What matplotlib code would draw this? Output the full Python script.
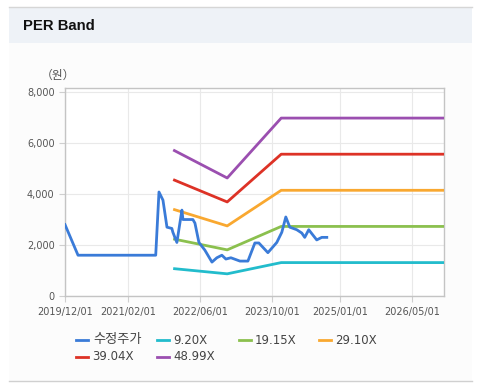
import matplotlib
matplotlib.use("Agg")
import matplotlib.pyplot as plt
from matplotlib.patches import Rectangle
from matplotlib.lines import Line2D
from matplotlib.ticker import FuncFormatter
import numpy as np

plt.rcParams['font.family'] = ['DejaVu Sans', 'Noto Sans CJK KR']

# ---------------- data ----------------
price_dates = ["2019-12-01", "2020-02-27", "2021-08-05", "2021-08-27", "2021-09-23",
               "2021-10-20", "2021-11-22", "2021-11-29", "2021-12-26", "2022-01-29",
               "2022-02-05", "2022-03-04", "2022-04-13", "2022-04-27", "2022-05-24",
               "2022-07-03", "2022-08-20", "2022-09-22", "2022-10-26", "2022-11-22",
               "2022-12-26", "2023-02-25", "2023-04-20", "2023-06-06", "2023-07-03",
               "2023-09-02", "2023-11-01", "2023-12-05", "2024-01-01", "2024-01-28",
               "2024-03-15", "2024-04-18", "2024-05-08", "2024-06-04", "2024-07-28",
               "2024-08-31", "2024-10-04"]
price_values = [2800, 1600, 1600, 4080, 3760,
                2700, 2650, 2500, 2100, 3370,
                3000, 3000, 3000, 2860, 2100,
                1800, 1330, 1500, 1600, 1450,
                1500, 1370, 1370, 2080, 2080,
                1700, 2100, 2500, 3100, 2700,
                2600, 2470, 2300, 2600, 2200,
                2300, 2300]

band_dates = ["2021-12-01", "2022-12-01", "2023-12-01", "2026-12-05"]
band_920 = [1076, 870, 1311, 1311]
band_1915 = [2240, 1810, 2729, 2729]
band_2910 = [3404, 2750, 4147, 4147]
band_3904 = [4567, 3690, 5563, 5563]
band_4899 = [5730, 4630, 6980, 6980]

series_labels = ["수정주가", "9.20X", "19.15X", "29.10X", "39.04X", "48.99X"]
series_colors = ["#3a7bd8", "#22bccc", "#8bc04e", "#f9a830", "#dd3226", "#9b4fb0"]

x_tick_labels = ["2019/12/01", "2021/02/01", "2022/06/01", "2023/10/01", "2025/01/01", "2026/05/01"]
y_ticks = [0, 2000, 4000, 6000, 8000]

# ---------------- figure ----------------
W, H = 479, 389
fig = plt.figure(figsize=(W / 100, H / 100), dpi=100)
fig.patch.set_facecolor("white")

def fx(px):
    return px / W

def fy(py):
    return 1 - py / H

# card background
fig.patches.append(Rectangle((fx(9), fy(381)), fx(472) - fx(9), fy(7) - fy(381),
                             transform=fig.transFigure, facecolor="#fcfcfc", edgecolor="none", zorder=-5))
# header band
fig.patches.append(Rectangle((fx(9), fy(43)), fx(472) - fx(9), fy(7) - fy(43),
                             transform=fig.transFigure, facecolor="#eef2f7", edgecolor="none", zorder=-4))
fig.lines.append(Line2D([fx(9), fx(472)], [fy(7), fy(7)], transform=fig.transFigure,
                        color="#d6d6d6", lw=1.0, zorder=-3))
fig.lines.append(Line2D([fx(9), fx(472)], [fy(381), fy(381)], transform=fig.transFigure,
                        color="#d0d0d0", lw=1.0, zorder=-3))

fig.text(fx(23), fy(26), "PER Band", fontsize=10.7, fontweight="bold",
         family="Liberation Sans", color="#111111", va="center", ha="left")

# axes
L, R, T, B = 65, 444, 88, 296
ax = fig.add_axes([fx(L), fy(B), fx(R) - fx(L), fy(T) - fy(B)])
ax.set_facecolor("white")

pd_ = [np.datetime64(d) for d in price_dates]
bd_ = [np.datetime64(d) for d in band_dates]

bands = [band_920, band_1915, band_2910, band_3904, band_4899]
for vals, c in zip(bands, series_colors[1:]):
    ax.plot(bd_, vals, color=c, lw=2.0, solid_capstyle="butt", zorder=3)
ax.plot(pd_, price_values, color=series_colors[0], lw=2.0, zorder=4)

ax.set_xlim(np.datetime64("2019-12-01"), np.datetime64("2026-12-05"))
ax.set_ylim(0, 8160)

xt = [np.datetime64(s.replace("/", "-")) for s in x_tick_labels]
ax.set_xticks(xt)
ax.set_xticklabels(x_tick_labels)
ax.set_yticks(y_ticks)
ax.yaxis.set_major_formatter(FuncFormatter(lambda v, p: f"{int(v):,}"))

ax.grid(True, color="#e9e9e9", lw=0.8, zorder=0)
ax.set_axisbelow(True)
for s in ax.spines.values():
    s.set_color("#c4c4c4")
    s.set_linewidth(1.0)
ax.tick_params(axis="both", labelsize=7, colors="#cfcfcf", labelcolor="#555555",
               length=4, width=0.8)
ax.tick_params(axis="x", pad=4)
ax.tick_params(axis="y", pad=3.5)

fig.text(fx(58), fy(75), "（원）", fontsize=8.5, family="Noto Sans CJK KR",
         color="#555555", ha="center", va="center")

# legend (manual, fixed-width columns)
legend_pos = [(76, 340), (157, 340), (239, 340), (319, 340), (76, 357), (157, 357)]
for (lx, ly), lab, c in zip(legend_pos, series_labels, series_colors):
    fig.lines.append(Line2D([fx(lx), fx(lx + 12)], [fy(ly), fy(ly)], transform=fig.transFigure,
                            color=c, lw=2.0))
    if lab == "수정주가":
        fig.text(fx(lx + 17), fy(ly), lab, fontsize=9.5, family="Noto Sans CJK KR",
                 color="#444444", ha="left", va="center")
    else:
        fig.text(fx(lx + 16), fy(ly), lab, fontsize=8.5, color="#444444",
                 ha="left", va="center")

fig.savefig("out.png", dpi=100, facecolor=fig.get_facecolor())
